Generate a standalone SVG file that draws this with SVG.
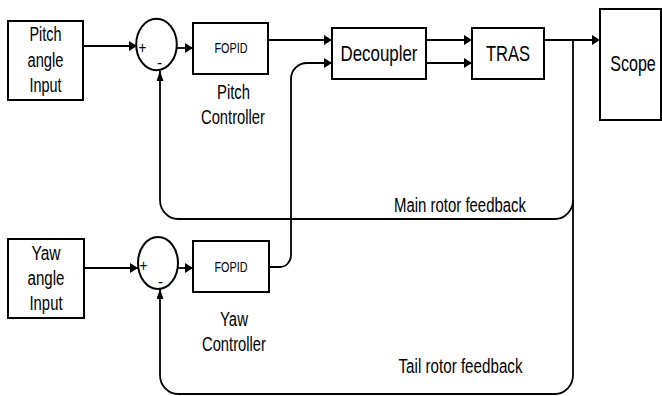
<svg xmlns="http://www.w3.org/2000/svg" width="662" height="396" viewBox="0 0 662 396">
<style>
.box{fill:#fff;stroke:#000;stroke-width:2}
.ln{fill:none;stroke:#000;stroke-width:1.8}
text{font-family:"Liberation Sans",Arial,sans-serif;fill:#000;text-anchor:middle}
.t20{font-size:20px}
.t19{font-size:19.5px}
.t14{font-size:14.5px}
.t17{font-size:17px}
.t22{font-size:22px}
.st{text-anchor:start}
</style>
<defs>
<marker id="ah" markerUnits="userSpaceOnUse" markerWidth="8" markerHeight="10" refX="8" refY="5" orient="auto"><path d="M0,0 L8,5 L0,10 Z" fill="#000"/></marker>
<marker id="av" markerUnits="userSpaceOnUse" markerWidth="10" markerHeight="7" refX="10" refY="3.5" orient="auto"><path d="M0,0 L10,3.5 L0,7 Z" fill="#000"/></marker>
</defs>
<rect width="662" height="396" fill="#fff"/>

<g id="connectors">
<path class="ln" d="M83,46 H137" marker-end="url(#ah)"/>
<path class="ln" d="M177,48 H193" marker-end="url(#ah)"/>
<path class="ln" d="M268,40 H332" marker-end="url(#ah)"/>
<path class="ln" d="M426,40 H472" marker-end="url(#ah)"/>
<path class="ln" d="M426,63 H472" marker-end="url(#ah)"/>
<path class="ln" d="M544,40 H600" marker-end="url(#ah)"/>
<path class="ln" d="M573,40 V200 A18,19 0 0 1 555,219 H178 A18,19 0 0 1 160,200 V71" marker-end="url(#av)"/>
<path class="ln" d="M573,200 V375 A18,19 0 0 1 555,394 H178 A18,19 0 0 1 160,375 V289" marker-end="url(#av)"/>
<path class="ln" d="M84,268 H138" marker-end="url(#ah)"/>
<path class="ln" d="M178,268 H193" marker-end="url(#ah)"/>
<path class="ln" d="M269,267 H280 A11,12 0 0 0 291,255 V79 A16,16 0 0 1 307,63 H332" marker-end="url(#ah)"/>
</g>

<g id="pitch-input">
<rect class="box" x="8" y="21" width="75" height="79"/>
<text class="t20" x="45.5" y="41" textLength="32" lengthAdjust="spacingAndGlyphs">Pitch</text>
<text class="t20" x="45.5" y="66.5" textLength="36" lengthAdjust="spacingAndGlyphs">angle</text>
<text class="t20" x="45.5" y="92" textLength="32" lengthAdjust="spacingAndGlyphs">Input</text>
</g>

<g id="pitch-sum">
<ellipse class="box" cx="156.5" cy="44.5" rx="20.3" ry="25.8"/>
<text class="t17" transform="translate(142.5,52.5) scale(0.8,1)">+</text>
<text class="t17" transform="translate(159.5,67.5) scale(0.9,1)">-</text>
</g>

<g id="pitch-fopid">
<rect class="box" x="193" y="23" width="75" height="51"/>
<text class="t14" x="231" y="53" textLength="33" lengthAdjust="spacingAndGlyphs">FOPID</text>
<text class="t19" x="233.5" y="99" textLength="33" lengthAdjust="spacingAndGlyphs">Pitch</text>
<text class="t19" x="233" y="124" textLength="64" lengthAdjust="spacingAndGlyphs">Controller</text>
</g>

<g id="decoupler">
<rect class="box" x="332" y="28" width="94" height="51"/>
<text class="t22" x="379" y="61" textLength="77" lengthAdjust="spacingAndGlyphs">Decoupler</text>
</g>

<g id="tras">
<rect class="box" x="472" y="28" width="72" height="51"/>
<text class="t22" x="508" y="61" textLength="44" lengthAdjust="spacingAndGlyphs">TRAS</text>
</g>

<g id="scope">
<rect class="box" x="600" y="9" width="61" height="111"/>
<text class="t22" transform="translate(633,71) scale(0.73,1)">Scope</text>
</g>

<g id="yaw-input">
<rect class="box" x="8" y="239" width="76" height="79"/>
<text class="t20" x="46" y="260" textLength="29" lengthAdjust="spacingAndGlyphs">Yaw</text>
<text class="t20" x="46" y="285" textLength="37" lengthAdjust="spacingAndGlyphs">angle</text>
<text class="t20" x="46" y="310" textLength="33" lengthAdjust="spacingAndGlyphs">Input</text>
</g>

<g id="yaw-sum">
<ellipse class="box" cx="158" cy="263" rx="20" ry="26"/>
<text class="t17" transform="translate(143.5,270.5) scale(0.8,1)">+</text>
<text class="t17" transform="translate(160.5,286.5) scale(0.9,1)">-</text>
</g>

<g id="yaw-fopid">
<rect class="box" x="193" y="241" width="76" height="51"/>
<text class="t14" x="231" y="272" textLength="33" lengthAdjust="spacingAndGlyphs">FOPID</text>
<text class="t19" x="234" y="326" textLength="28" lengthAdjust="spacingAndGlyphs">Yaw</text>
<text class="t19" x="234" y="351" textLength="64" lengthAdjust="spacingAndGlyphs">Controller</text>
</g>

<g id="labels">
<text class="t19 st" x="394" y="212" textLength="132" lengthAdjust="spacingAndGlyphs">Main rotor feedback</text>
<text class="t19 st" x="398.5" y="373" textLength="124" lengthAdjust="spacingAndGlyphs">Tail rotor feedback</text>
</g>
</svg>
